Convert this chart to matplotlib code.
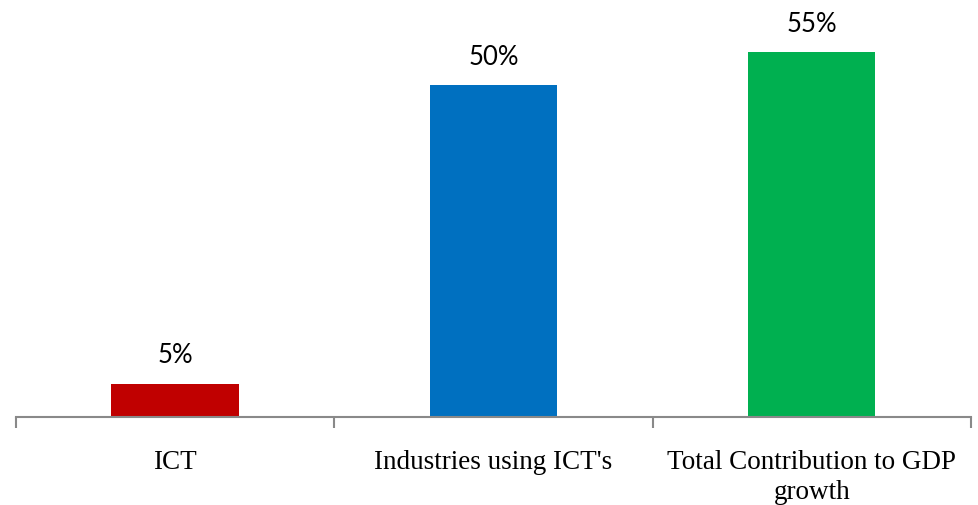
import matplotlib
matplotlib.use("Agg")
import matplotlib.pyplot as plt
import numpy as np

categories = ["ICT", "Industries using ICT's", "Total Contribution to GDP\ngrowth"]
values = [5, 50, 55]
colors = ["#C00000", "#0070C0", "#00B050"]

fig = plt.figure(figsize=(9.79, 5.06), dpi=100)
ax = fig.add_axes([16 / 979, 1 - 418 / 506, (971 - 16) / 979, (418 - 20) / 506])

x = np.arange(len(categories))
ax.bar(x, values, width=0.40, color=colors, zorder=2)
ax.set_xlim(-0.5, len(categories) - 0.5)
ax.set_ylim(0, 60)

for xi, v in zip(x, values):
    ax.text(xi, v + 4.35, f"{v}%", ha="center", va="center",
            fontsize=18.5, family="Lato", color="#000000")

for s in ["top", "right", "left"]:
    ax.spines[s].set_visible(False)
ax.spines["bottom"].set_color("#898989")
ax.spines["bottom"].set_linewidth(1.5)
ax.set_yticks([])

ax.set_xticks(np.arange(-0.5, len(categories), 1.0))
ax.set_xticklabels([])
ax.tick_params(axis="x", length=8, width=1.5, color="#898989", direction="out")

for xi, c in zip(x, categories):
    ax.text(xi, -4.8, c, ha="center", va="top", fontsize=19.5,
            family="Liberation Serif", color="#000000", linespacing=1.25)

fig.savefig("out.png", dpi=100)
